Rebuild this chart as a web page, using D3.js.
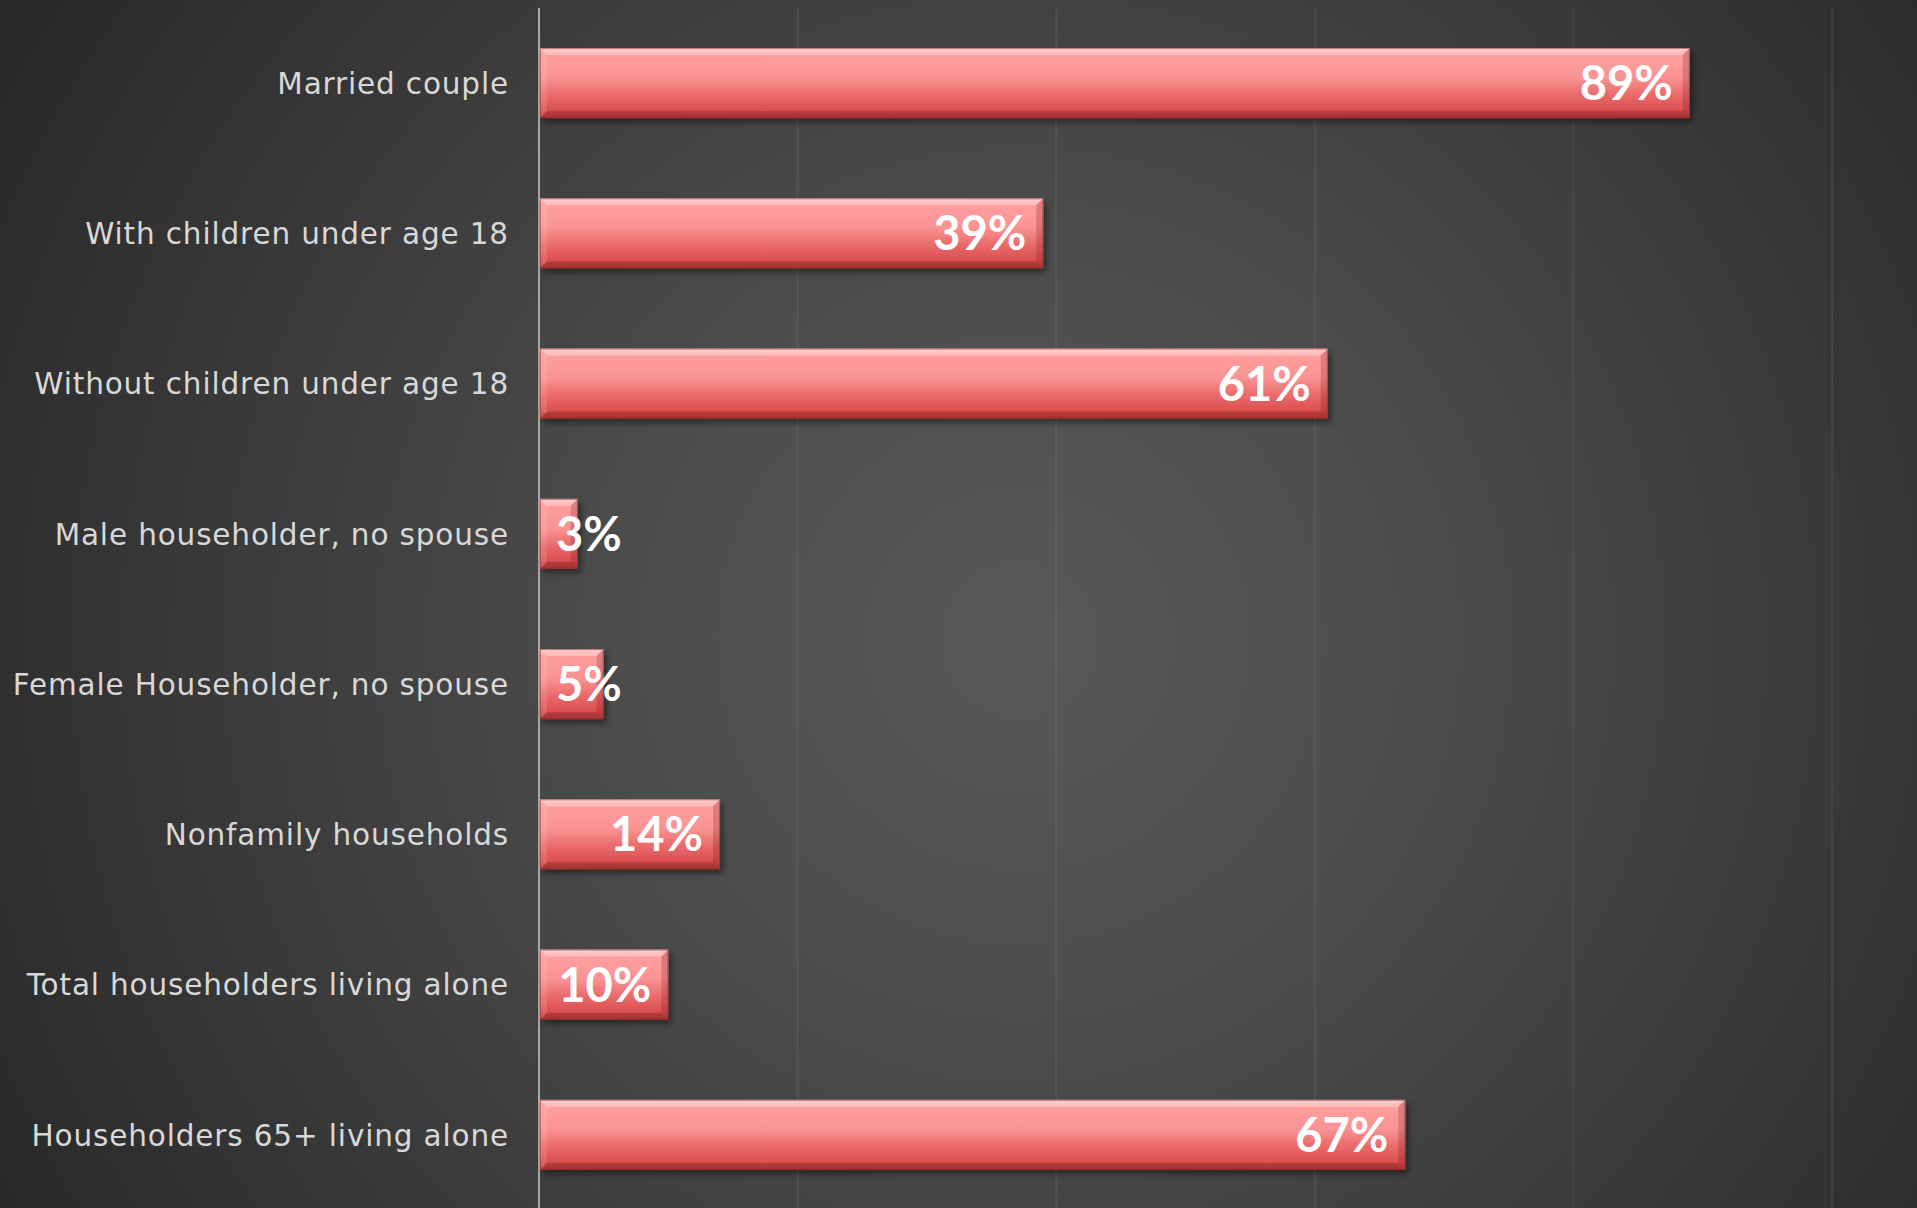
<!DOCTYPE html>
<html>
<head>
<meta charset="utf-8">
<script src="https://cdn.jsdelivr.net/npm/d3@7"></script>
<style>
  html, body { margin: 0; padding: 0; background: #2a2a2a; overflow: hidden; }
  svg { display: block; }
</style>
</head>
<body>
<svg id="chart" width="1917" height="1208"></svg>
<script>
// Household composition shares (percent)
const categories = [
  "Married couple",
  "With children under age 18",
  "Without children under age 18",
  "Male householder, no spouse",
  "Female Householder, no spouse",
  "Nonfamily households",
  "Total householders living alone",
  "Householders 65+ living alone"
];
const values = [89, 39, 61, 3, 5, 14, 10, 67];
const gridTicks = [0, 20, 40, 60, 80, 100];

const W = 1917, H = 1208;
const svg = d3.select("#chart");
const defs = svg.append("defs");

// Dark radial backdrop, lighter toward the middle
const bg = defs.append("radialGradient")
  .attr("id", "bgGrad").attr("gradientUnits", "userSpaceOnUse")
  .attr("cx", 1020).attr("cy", 640).attr("r", 1180);
[[0, "#595959"], [0.35, "#4c4c4c"], [0.75, "#363636"], [1, "#282828"]]
  .forEach(([o, c]) => bg.append("stop").attr("offset", o).attr("stop-color", c));
svg.append("rect").attr("width", W).attr("height", H).attr("fill", "url(#bgGrad)");

// Bar body shading: glossy pink top fading to deeper red
const barGrad = defs.append("linearGradient")
  .attr("id", "barGrad").attr("x1", 0).attr("y1", 0).attr("x2", 0).attr("y2", 1);
[[0, "#ffc4c4"], [0.06, "#ff9f9f"], [0.42, "#fa9393"], [0.64, "#eb6e6e"], [0.88, "#dc5050"], [1, "#b83d3d"]]
  .forEach(([o, c]) => barGrad.append("stop").attr("offset", o).attr("stop-color", c));

const shadow = defs.append("filter").attr("id", "barShadow")
  .attr("x", "-10%").attr("y", "-20%").attr("width", "130%").attr("height", "160%");
shadow.append("feDropShadow").attr("dx", 3).attr("dy", 4).attr("stdDeviation", 3)
  .attr("flood-color", "#000").attr("flood-opacity", 0.45);

const margin = { left: 539, right: W - 1832, top: 8, bottom: -2 };

const x = d3.scaleLinear().domain([0, 100]).range([margin.left, W - margin.right]);
const y = d3.scaleBand().domain(categories)
  .range([margin.top, H - margin.bottom])
  .paddingInner(0.534).paddingOuter(0.267);

// Vertical gridlines
svg.append("g").selectAll("line")
  .data(gridTicks.filter(t => t > 0))
  .join("line")
  .attr("x1", d => x(d)).attr("x2", d => x(d))
  .attr("y1", margin.top).attr("y2", H)
  .attr("stroke", "rgba(255,255,255,0.07)").attr("stroke-width", 2);

// Category axis (labels only, plus the baseline)
const yAxis = d3.axisLeft(y).tickSize(0).tickPadding(30);
const ga = svg.append("g").attr("transform", `translate(${x(0)},0)`).call(yAxis);
ga.select(".domain").remove();
ga.selectAll("text")
  .attr("fill", "#d8d8d8")
  .style("font-family", "'DejaVu Sans', sans-serif")
  .style("font-size", "29.5px")
  .style("letter-spacing", "0.85px")
  .attr("dy", "0.36em");

svg.append("line")
  .attr("x1", x(0)).attr("x2", x(0))
  .attr("y1", margin.top).attr("y2", H)
  .attr("stroke", "#a8a8a8").attr("stroke-width", 2);

// Bars with bevelled edges
const bev = 7;
const bars = svg.append("g").selectAll("g")
  .data(categories.map((c, i) => ({ c, v: values[i] })))
  .join("g");

bars.append("rect")
  .attr("x", x(0) + 1).attr("y", d => y(d.c))
  .attr("width", d => x(d.v) - x(0) - 1).attr("height", y.bandwidth())
  .attr("fill", "url(#barGrad)")
  .attr("filter", "url(#barShadow)");

function facet(d, side) {
  const x0 = x(0) + 1, x1 = x(d.v), y0 = y(d.c), y1 = y(d.c) + y.bandwidth();
  const b = Math.min(bev, (x1 - x0) / 2);
  const pts = {
    top: [[x0, y0], [x1, y0], [x1 - b, y0 + b], [x0 + b, y0 + b]],
    bottom: [[x0, y1], [x1, y1], [x1 - b, y1 - b], [x0 + b, y1 - b]],
    left: [[x0, y0], [x0 + b, y0 + b], [x0 + b, y1 - b], [x0, y1]],
    right: [[x1, y0], [x1 - b, y0 + b], [x1 - b, y1 - b], [x1, y1]]
  }[side];
  return pts.map(p => p.join(",")).join(" ");
}
const facets = [
  ["top", "#ffffff", 0.32],
  ["left", "#ffffff", 0.12],
  ["right", "#6a1414", 0.22],
  ["bottom", "#6a1414", 0.28]
];
facets.forEach(([side, col, op]) => {
  bars.append("polygon")
    .attr("points", d => facet(d, side))
    .attr("fill", col).attr("fill-opacity", op);
});
bars.append("rect")
  .attr("x", x(0) + 1.5).attr("y", d => y(d.c) + 0.5)
  .attr("width", d => x(d.v) - x(0) - 2).attr("height", y.bandwidth() - 1)
  .attr("fill", "none").attr("stroke", "rgba(150,40,40,0.55)").attr("stroke-width", 1);

// Value labels at the inside end of each bar
bars.append("text")
  .text(d => d.v + "%")
  .attr("y", d => y(d.c) + y.bandwidth() / 2)
  .attr("dy", "0.36em")
  .attr("fill", "#ffffff")
  .style("font-family", "Lato, 'Open Sans', sans-serif")
  .style("font-weight", 700)
  .style("font-size", "47px")
  .each(function (d) {
    const w = this.getComputedTextLength();
    const left = Math.max(x(0) + 17, x(d.v) - 17 - w);
    d3.select(this).attr("x", left);
  });
</script>
</body>
</html>
